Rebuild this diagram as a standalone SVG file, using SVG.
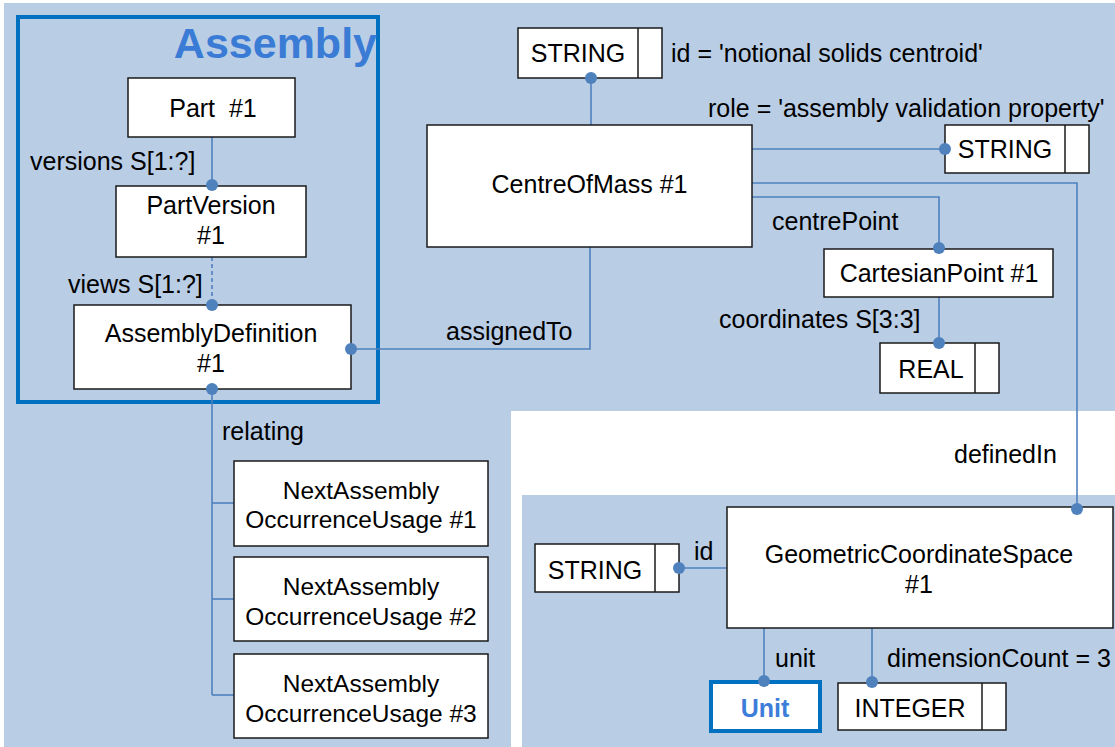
<svg xmlns="http://www.w3.org/2000/svg" width="1115" height="747" viewBox="0 0 1115 747">
<defs>
<style>
.bg{fill:#B9CDE5;stroke:none}
.box{fill:#FFFFFF;stroke:#1A1A1A;stroke-width:1.5}
.t{font-family:"Liberation Sans",Arial,sans-serif;font-size:25px;fill:#000000}
.s{font-size:24.5px}
.c{text-anchor:middle}
.con{fill:none;stroke:#4F81BD;stroke-width:1.6}
.dot{fill:#4F81BD;stroke:none}
</style>
</defs>
<rect width="1115" height="747" fill="#FFFFFF"/>
<path class="bg" d="M4,3 H1115 V411 H511 V747 H4 Z"/>
<rect class="bg" x="522" y="495" width="593" height="252"/>

<g id="assembly-frame">
<rect x="18" y="17" width="360" height="385" fill="none" stroke="#0070C0" stroke-width="4"/>
<text x="377" y="58" text-anchor="end" style="font-family:'Liberation Sans',Arial,sans-serif;font-size:43px;font-weight:bold;fill:#3A7BD5">Assembly</text>
</g>

<g id="connectors">
<line class="con" x1="212" y1="137" x2="212" y2="185"/>
<line class="con" x1="212" y1="257" x2="212" y2="305" stroke-dasharray="4,3"/>
<polyline class="con" points="351,349 590,349 590,247"/>
<line class="con" x1="591" y1="125" x2="591" y2="78"/>
<line class="con" x1="752" y1="149" x2="945" y2="149"/>
<polyline class="con" points="752,183 1077,183 1077,509"/>
<polyline class="con" points="752,197 939,197 939,248"/>
<line class="con" x1="939" y1="297" x2="939" y2="343"/>
<line class="con" x1="212" y1="389" x2="212" y2="695"/>
<line class="con" x1="212" y1="503" x2="234" y2="503"/>
<line class="con" x1="212" y1="599" x2="234" y2="599"/>
<line class="con" x1="212" y1="695" x2="234" y2="695"/>
<line class="con" x1="727" y1="568" x2="679" y2="568"/>
<line class="con" x1="764" y1="628" x2="764" y2="681"/>
<line class="con" x1="872" y1="628" x2="872" y2="682"/>
<text class="t" x="30" y="170">versions S[1:?]</text>
<text class="t" x="68" y="293">views S[1:?]</text>
<text class="t" x="446" y="340">assignedTo</text>
<text class="t" x="671" y="62">id = 'notional solids centroid'</text>
<text class="t" x="708" y="117">role = 'assembly validation property'</text>
<text class="t" x="772" y="230">centrePoint</text>
<text class="t" x="719" y="328">coordinates S[3:3]</text>
<text class="t" x="222" y="440">relating</text>
<text class="t" x="954" y="463">definedIn</text>
<text class="t" x="694" y="560">id</text>
<text class="t" x="775" y="667">unit</text>
<text class="t" x="887" y="667" textLength="224" lengthAdjust="spacing">dimensionCount = 3</text>
</g>

<g id="part">
<rect class="box" x="128" y="78" width="167" height="59"/>
<text class="t c" x="213" y="117">Part&#160; #1</text>
</g>
<g id="partversion">
<rect class="box" x="116" y="186" width="190" height="71"/>
<text class="t c" x="211" y="214">PartVersion</text>
<text class="t c" x="211" y="244">#1</text>
</g>
<g id="assemblydefinition">
<rect class="box" x="74" y="305" width="277" height="84"/>
<text class="t c" x="211" y="342">AssemblyDefinition</text>
<text class="t c" x="211" y="372">#1</text>
</g>
<g id="naou1">
<rect class="box" x="234" y="461" width="254" height="85"/>
<text class="t s c" x="361" y="499">NextAssembly</text>
<text class="t s c" x="361" y="528">OccurrenceUsage #1</text>
</g>
<g id="naou2">
<rect class="box" x="234" y="557" width="254" height="84"/>
<text class="t s c" x="361" y="595">NextAssembly</text>
<text class="t s c" x="361" y="625">OccurrenceUsage #2</text>
</g>
<g id="naou3">
<rect class="box" x="234" y="654" width="254" height="84"/>
<text class="t s c" x="361" y="692">NextAssembly</text>
<text class="t s c" x="361" y="722">OccurrenceUsage #3</text>
</g>
<g id="string-id">
<rect class="box" x="518" y="28" width="144" height="50"/>
<line class="box" x1="638" y1="28" x2="638" y2="78"/>
<text class="t c" x="578" y="62">STRING</text>
</g>
<g id="centreofmass">
<rect class="box" x="427" y="125" width="325" height="122"/>
<text class="t c" x="589.5" y="193">CentreOfMass #1</text>
</g>
<g id="string-role">
<rect class="box" x="945" y="125" width="144" height="48"/>
<line class="box" x1="1065" y1="125" x2="1065" y2="173"/>
<text class="t c" x="1005" y="158">STRING</text>
</g>
<g id="cartesianpoint">
<rect class="box" x="824" y="249" width="229" height="48"/>
<text class="t c" x="939" y="282">CartesianPoint #1</text>
</g>
<g id="real">
<rect class="box" x="880" y="343" width="119" height="50"/>
<line class="box" x1="975" y1="343" x2="975" y2="393"/>
<text class="t c" x="931" y="378">REAL</text>
</g>
<g id="geometriccoordinatespace">
<rect class="box" x="727" y="507" width="386" height="121"/>
<text class="t c" x="919" y="563">GeometricCoordinateSpace</text>
<text class="t c" x="919" y="593">#1</text>
</g>
<g id="string-gcs">
<rect class="box" x="535" y="544" width="144" height="48"/>
<line class="box" x1="655" y1="544" x2="655" y2="592"/>
<text class="t c" x="595" y="579">STRING</text>
</g>
<g id="unit">
<rect x="711" y="682" width="109" height="49" fill="#FFFFFF" stroke="#0070C0" stroke-width="4"/>
<text x="765" y="717" text-anchor="middle" style="font-family:'Liberation Sans',Arial,sans-serif;font-size:25px;font-weight:bold;fill:#3C7DD9">Unit</text>
</g>
<g id="integer">
<rect class="box" x="838" y="683" width="168" height="47"/>
<line class="box" x1="982" y1="683" x2="982" y2="730"/>
<text class="t c" x="910" y="717">INTEGER</text>
</g>

<g id="connector-dots">
<circle class="dot" cx="212" cy="185" r="6"/>
<circle class="dot" cx="212" cy="305" r="6"/>
<circle class="dot" cx="351" cy="349" r="6"/>
<circle class="dot" cx="591" cy="78" r="6"/>
<circle class="dot" cx="945" cy="149" r="6"/>
<circle class="dot" cx="1077" cy="509" r="6"/>
<circle class="dot" cx="939" cy="248" r="6"/>
<circle class="dot" cx="939" cy="343" r="6"/>
<circle class="dot" cx="212" cy="389" r="6"/>
<circle class="dot" cx="679" cy="568" r="6"/>
<circle class="dot" cx="764" cy="681" r="6"/>
<circle class="dot" cx="872" cy="682" r="6"/>
</g>
</svg>
